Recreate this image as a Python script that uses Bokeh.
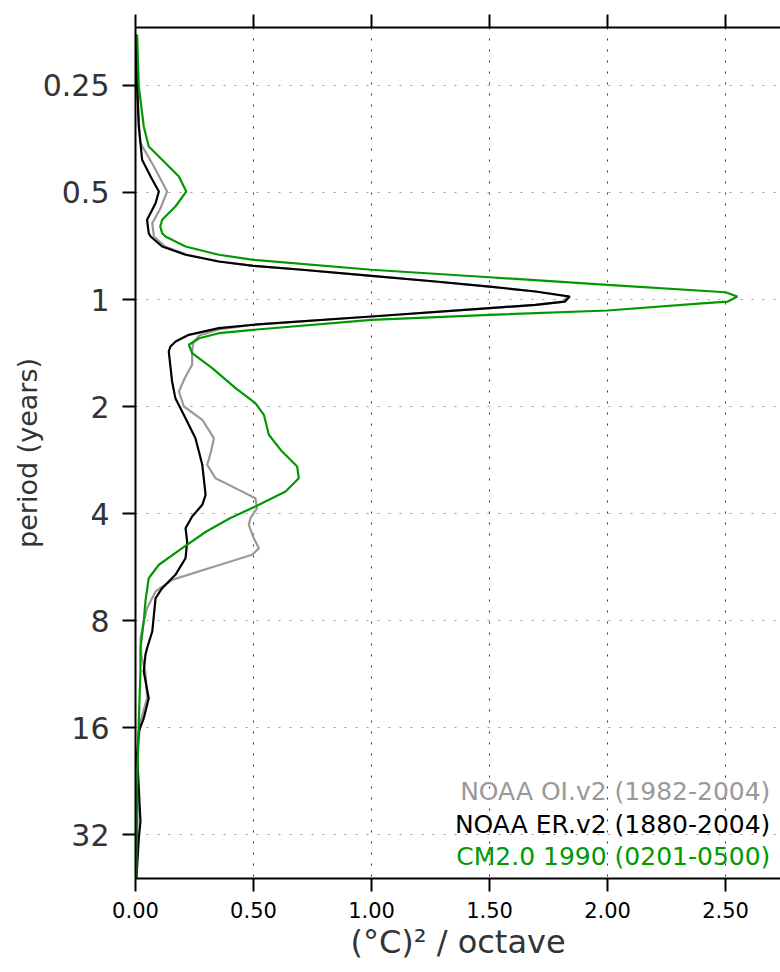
import numpy as np
from bokeh.plotting import figure
from bokeh.models import Range1d, LinearAxis, FixedTicker, Label, NumeralTickFormatter
from bokeh.embed import file_html
from bokeh.resources import INLINE

# ---------------- data ----------------
period_ticks = [0.25, 0.5, 1, 2, 4, 8, 16, 32]
period_labels = ["0.25", "0.5", "1", "2", "4", "8", "16", "32"]
power_ticks = [0.0, 0.5, 1.0, 1.5, 2.0, 2.5]

series_names = ["NOAA OI.v2 (1982-2004)", "NOAA ER.v2 (1880-2004)", "CM2.0 1990 (0201-0500)"]

# octave = log2(period in years); power in (degC)^2 / octave
oi_octave = [-2.477, -1.991, -1.617, -1.461, -1.243, -1.009, -0.853, -0.713, -0.589, -0.495,
             -0.418, -0.355, -0.315, -0.278, -0.221, -0.168, -0.121, -0.075, -0.028, 0.019,
             0.050, 0.081, 0.159, 0.236, 0.280, 0.336, 0.402, 0.486, 0.610, 0.729,
             0.860, 1.000, 1.124, 1.296, 1.421, 1.545, 1.670, 1.779, 1.857, 1.950,
             2.044, 2.106, 2.231, 2.324, 2.386, 2.511, 2.620, 2.729, 2.885, 3.009,
             3.165, 3.336, 3.477, 3.726, 3.944, 4.255, 4.692, 5.408]
oi_power = [0.003, 0.008, 0.015, 0.021, 0.078, 0.134, 0.106, 0.071, 0.078, 0.125,
            0.220, 0.353, 0.500, 0.706, 1.000, 1.270, 1.500, 1.695, 1.830, 1.810,
            1.695, 1.500, 1.000, 0.500, 0.353, 0.270, 0.245, 0.240, 0.240, 0.210,
            0.184, 0.205, 0.283, 0.332, 0.320, 0.304, 0.339, 0.438, 0.508, 0.515,
            0.487, 0.480, 0.501, 0.523, 0.494, 0.311, 0.155, 0.085, 0.049, 0.035,
            0.021, 0.025, 0.042, 0.049, 0.021, 0.008, 0.010, 0.004]

er_octave = [-2.477, -1.991, -1.617, -1.306, -1.150, -1.009, -0.900, -0.745, -0.620, -0.589,
             -0.495, -0.418, -0.355, -0.315, -0.278, -0.221, -0.168, -0.121, -0.075, -0.028,
             0.019, 0.050, 0.081, 0.159, 0.236, 0.268, 0.330, 0.393, 0.439, 0.486,
             0.766, 0.922, 1.109, 1.296, 1.545, 1.825, 1.919, 2.028, 2.137, 2.262,
             2.418, 2.573, 2.698, 2.792, 2.947, 3.103, 3.259, 3.321, 3.477, 3.726,
             3.913, 4.037, 4.255, 4.567, 4.879, 5.034, 5.408]
er_power = [0.003, 0.007, 0.014, 0.028, 0.064, 0.099, 0.085, 0.049, 0.056, 0.064,
            0.113, 0.212, 0.353, 0.500, 0.706, 1.000, 1.270, 1.500, 1.695, 1.840,
            1.820, 1.695, 1.500, 1.000, 0.500, 0.353, 0.226, 0.170, 0.148, 0.141,
            0.155, 0.169, 0.212, 0.254, 0.283, 0.297, 0.283, 0.240, 0.212, 0.219,
            0.212, 0.169, 0.113, 0.085, 0.078, 0.071, 0.049, 0.042, 0.035, 0.056,
            0.035, 0.014, 0.007, 0.014, 0.021, 0.014, 0.004]

cm_octave = [-2.474, -1.991, -1.617, -1.430, -1.306, -1.150, -1.009, -0.869, -0.745, -0.682,
             -0.620, -0.589, -0.495, -0.418, -0.371, -0.278, -0.208, -0.137, -0.068, -0.028,
             0.019, 0.037, 0.103, 0.143, 0.190, 0.283, 0.315, 0.362, 0.423, 0.502,
             0.642, 0.829, 0.969, 1.078, 1.264, 1.421, 1.561, 1.670, 1.794, 1.919,
             2.044, 2.168, 2.324, 2.479, 2.605, 2.822, 3.009, 3.259, 3.477, 3.944,
             4.567, 5.408]
cm_power = [0.007, 0.014, 0.035, 0.056, 0.113, 0.184, 0.215, 0.169, 0.113, 0.105,
            0.113, 0.127, 0.212, 0.353, 0.500, 1.000, 1.500, 2.000, 2.500, 2.550,
            2.510, 2.400, 2.000, 1.500, 1.000, 0.500, 0.353, 0.270, 0.226, 0.240,
            0.325, 0.424, 0.508, 0.544, 0.565, 0.621, 0.685, 0.692, 0.636, 0.523,
            0.400, 0.300, 0.198, 0.099, 0.056, 0.042, 0.035, 0.021, 0.021, 0.014,
            0.007, 0.004]

colors = ["#999999", "#000000", "#009900"]

# ---------------- figure ----------------
FONT = "DejaVu Sans"
p = figure(width=780, height=970,
           x_range=Range1d(0, 2.733), y_range=Range1d(5.411, -2.542),
           output_backend="svg", toolbar_location=None,
           min_border_left=135, min_border_right=0, min_border_top=27, min_border_bottom=92)
p.outline_line_color = None
p.background_fill_color = "white"
p.border_fill_color = "white"

for octs, pw, c in [(oi_octave, oi_power, colors[0]), (er_octave, er_power, colors[1]),
                    (cm_octave, cm_power, colors[2])]:
    p.line(pw, octs, line_color=c, line_width=2.2)

y_tick_pos = [float(np.log2(v)) for v in period_ticks]

xa = p.xaxis[0]
xa.ticker = FixedTicker(ticks=power_ticks)
xa.formatter = NumeralTickFormatter(format="0.00")
xa.major_tick_out = 13
xa.major_tick_in = 0
xa.minor_tick_line_color = None
xa.axis_line_width = 2
xa.major_tick_line_width = 2
xa.major_label_text_font = FONT
xa.major_label_text_font_size = "21px"
xa.major_label_text_color = "black"
xa.major_label_standoff = 10
xa.axis_label = "(°C)² / octave"
xa.axis_label_text_font = FONT
xa.axis_label_text_font_size = "32px"
xa.axis_label_text_font_style = "normal"
xa.axis_label_text_color = "#333333"
xa.axis_label_standoff = 2

ya = p.yaxis[0]
ya.ticker = FixedTicker(ticks=y_tick_pos)
ya.major_label_overrides = {t: l for t, l in zip(y_tick_pos, period_labels)}
ya.major_tick_out = 13
ya.major_tick_in = 0
ya.minor_tick_line_color = None
ya.axis_line_width = 2
ya.major_tick_line_width = 2
ya.major_label_text_font = FONT
ya.major_label_text_font_size = "30px"
ya.major_label_text_color = "#333333"
ya.major_label_standoff = 13
ya.axis_label = "period (years)"
ya.axis_label_text_font = FONT
ya.axis_label_text_font_size = "27px"
ya.axis_label_text_font_style = "normal"
ya.axis_label_text_color = "#333333"
ya.axis_label_standoff = -3

top = LinearAxis(ticker=FixedTicker(ticks=power_ticks),
                 major_label_overrides={t: "" for t in power_ticks},
                 major_tick_out=13, major_tick_in=0, minor_tick_line_color=None,
                 axis_line_width=2, major_tick_line_width=2, major_label_standoff=0)
p.add_layout(top, "above")

p.xgrid.ticker = FixedTicker(ticks=power_ticks)
p.xgrid.grid_line_color = "#333333"
p.xgrid.grid_line_dash = "2 9"
p.xgrid.grid_line_width = 1
p.ygrid.ticker = FixedTicker(ticks=y_tick_pos)
p.ygrid.grid_line_color = "#999999"
p.ygrid.grid_line_dash = "2 9"
p.ygrid.grid_line_width = 1

# series labels
for i, (name, c) in enumerate(zip(series_names, colors)):
    p.add_layout(Label(x=2.69, y=4.60 + 0.303 * i, text=name, text_align="right",
                       text_baseline="middle", text_font=FONT, text_font_size="25px",
                       text_color=c))

open("out.html", "w").write(file_html(p, INLINE))
